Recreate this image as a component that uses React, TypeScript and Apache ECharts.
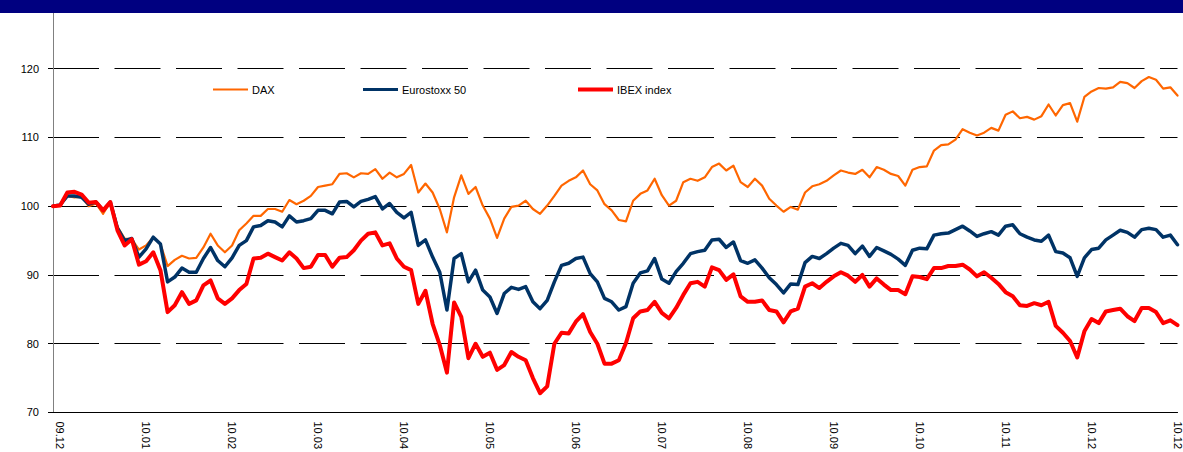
import React, { useEffect, useRef } from "react";
import * as echarts from "echarts";

const tickLabels = ["09.12", "10.01", "10.02", "10.03", "10.04", "10.05", "10.06", "10.07", "10.08", "10.09", "10.10", "10.11", "10.12", "10.12"];
const tickIndex = [1, 13, 25, 37, 49, 61, 73, 85, 97, 109, 121, 133, 145, 157];

const seriesNames = ["DAX", "Eurostoxx 50", "IBEX index"];

const dax = [
  100.0, 100.1, 101.5, 101.3, 101.4, 100.0, 100.4, 98.9, 100.6, 97.0,
  95.3, 95.2, 93.7, 94.3, 95.5, 94.5, 91.3, 92.2, 92.8, 92.4,
  92.5, 94.0, 96.0, 94.3, 93.3, 94.3, 96.5, 97.5, 98.6, 98.6,
  99.6, 99.6, 99.2, 100.9, 100.3, 100.8, 101.5, 102.8, 103.0, 103.2,
  104.7, 104.8, 104.2, 104.8, 104.7, 105.4, 104.0, 104.9, 104.2, 104.7,
  106.0, 102.0, 103.3, 102.0, 99.6, 96.2, 101.3, 104.5, 101.8, 102.8,
  100.1, 98.2, 95.4, 98.2, 99.9, 100.1, 100.8, 99.6, 98.9, 100.1,
  101.5, 103.0, 103.7, 104.2, 105.2, 103.2, 102.3, 100.3, 99.4, 98.0,
  97.8, 100.8, 101.8, 102.3, 104.0, 101.6, 100.1, 100.8, 103.5, 104.0,
  103.7, 104.2, 105.7, 106.2, 105.2, 105.9, 103.5, 102.8, 104.0, 103.0,
  101.1, 100.1, 99.2, 99.9, 99.5, 102.0, 102.9, 103.2, 103.7, 104.5,
  105.2, 104.9, 104.7, 105.3, 104.2, 105.7, 105.3, 104.7, 104.4, 103.0,
  105.3, 105.7, 105.8, 108.1, 108.9, 109.0, 109.7, 111.2, 110.7, 110.3,
  110.7, 111.4, 111.0, 113.3, 113.8, 112.8, 113.0, 112.6, 113.1, 114.8,
  113.2, 114.7, 115.0, 112.3, 115.9, 116.7, 117.2, 117.1, 117.3, 118.1,
  117.9, 117.2, 118.2, 118.8, 118.4, 117.1, 117.3, 116.1,
];

const eurostoxx = [
  100.0, 100.2, 101.5, 101.5, 101.3, 100.3, 100.6, 99.4, 100.6, 96.8,
  95.0, 95.3, 92.6, 93.8, 95.5, 94.5, 89.0, 89.7, 91.0, 90.4,
  90.4, 92.4, 94.0, 92.1, 91.2, 92.5, 94.3, 95.0, 97.0, 97.2,
  97.9, 97.7, 97.0, 98.6, 97.7, 97.9, 98.2, 99.4, 99.4, 98.9,
  100.6, 100.7, 99.9, 100.7, 101.0, 101.4, 99.6, 100.4, 99.1, 98.3,
  99.1, 94.3, 95.1, 92.6, 90.4, 84.9, 92.4, 93.1, 89.0, 90.7,
  87.8, 86.8, 84.4, 87.3, 88.2, 87.9, 88.3, 86.1, 85.1, 86.3,
  89.0, 91.4, 91.7, 92.4, 92.6, 90.2, 89.0, 86.6, 86.1, 84.9,
  85.4, 88.8, 90.3, 90.6, 92.4, 89.4, 88.8, 90.5, 91.7, 93.1,
  93.4, 93.6, 95.1, 95.2, 94.0, 94.8, 92.1, 91.7, 92.2, 91.0,
  89.6, 88.6, 87.4, 88.7, 88.6, 91.8, 92.7, 92.4, 93.1, 93.9,
  94.6, 94.3, 93.1, 94.2, 92.7, 94.0, 93.5, 93.0, 92.3, 91.4,
  93.6, 93.9, 93.8, 95.8, 96.0, 96.1, 96.6, 97.1, 96.4, 95.6,
  96.0, 96.3, 95.8, 97.1, 97.3, 96.0, 95.5, 95.1, 94.9, 95.8,
  93.4, 93.2, 92.5, 89.8, 92.5, 93.7, 93.9, 95.1, 95.8, 96.5,
  96.2, 95.5, 96.6, 96.8, 96.6, 95.5, 95.8, 94.4,
];

const ibex = [
  100.0, 100.1, 102.0, 102.1, 101.7, 100.5, 100.6, 99.4, 100.6, 96.5,
  94.3, 95.2, 91.5, 92.0, 93.3, 90.7, 84.6, 85.6, 87.5, 85.8,
  86.3, 88.5, 89.2, 86.6, 85.8, 86.6, 87.8, 88.7, 92.4, 92.5,
  93.1, 92.6, 92.1, 93.3, 92.4, 91.0, 91.2, 92.9, 92.9, 91.2,
  92.5, 92.6, 93.6, 95.0, 96.0, 96.2, 94.3, 94.6, 92.4, 91.2,
  90.7, 85.8, 87.7, 82.9, 79.8, 75.8, 86.0, 83.9, 77.9, 80.0,
  78.1, 78.7, 76.2, 76.9, 78.8, 78.1, 77.6, 75.0, 72.8, 73.8,
  80.0, 81.6, 81.5, 83.2, 84.3, 81.7, 80.0, 77.1, 77.1, 77.6,
  80.1, 83.7, 84.7, 84.9, 86.1, 84.5, 83.7, 85.2, 87.1, 88.8,
  89.0, 88.3, 91.1, 90.7, 89.3, 90.1, 86.9, 86.1, 86.1, 86.3,
  84.9, 84.7, 83.1, 84.7, 85.1, 88.3, 88.8, 88.1, 89.0, 89.8,
  90.4, 89.9, 89.0, 90.0, 88.3, 89.5, 88.6, 87.8, 87.8, 87.2,
  89.8, 89.7, 89.4, 91.0, 91.0, 91.3, 91.3, 91.5, 90.8, 89.8,
  90.4, 89.6, 88.7, 87.5, 86.9, 85.6, 85.5, 85.9, 85.6, 86.1,
  82.6, 81.6, 80.4, 78.0, 81.8, 83.6, 83.0, 84.7, 84.9, 85.1,
  84.0, 83.3, 85.2, 85.2, 84.6, 83.0, 83.4, 82.7,
];

const categories = dax.map((_, i) => String(i));

const FONT = 'Arial, "Liberation Sans", sans-serif';

export default function App() {
  const ref = useRef<HTMLDivElement>(null);

  useEffect(() => {
    if (!ref.current) return;
    const chart = echarts.init(ref.current, undefined, { renderer: "svg" });
    const legendBase = {
      orient: "horizontal",
      icon: "rect",
      itemWidth: 35,
      padding: 0,
      top: 84,
      selectedMode: false,
      textStyle: { fontSize: 11, color: "#000", fontFamily: FONT, padding: [0, 0, 0, -1] },
    };
    chart.setOption({
      animation: false,
      backgroundColor: "#ffffff",
      textStyle: { fontFamily: FONT },
      grid: { left: 53, right: 3, top: 0, bottom: 39, containLabel: false },
      legend: [
        { ...legendBase, left: 213, itemHeight: 2, data: [seriesNames[0]] },
        { ...legendBase, left: 363, itemHeight: 3, data: [seriesNames[1]] },
        { ...legendBase, left: 578, itemHeight: 4, data: [seriesNames[2]] },
      ],
      xAxis: {
        type: "category",
        boundaryGap: false,
        data: categories,
        axisLine: { show: true, lineStyle: { color: "#000", width: 1 } },
        axisTick: { show: false },
        splitLine: { show: false },
        axisLabel: {
          rotate: -90,
          margin: 9,
          fontSize: 11,
          color: "#000",
          fontFamily: FONT,
          interval: (index: number) => tickIndex.indexOf(index) >= 0,
          formatter: (_v: string, index: number) => {
            const k = tickIndex.indexOf(index);
            return k >= 0 ? tickLabels[k] : "";
          },
        },
      },
      yAxis: {
        type: "value",
        min: 70,
        max: 130,
        interval: 10,
        axisLine: { show: true, lineStyle: { color: "#808080", width: 1 } },
        axisTick: { show: true, length: 5, lineStyle: { color: "#000" } },
        axisLabel: {
          margin: 14,
          fontSize: 11,
          color: "#000",
          fontFamily: FONT,
          formatter: (v: number) => (v >= 130 ? "" : String(v)),
        },
        splitLine: {
          show: true,
          lineStyle: { color: "#000", width: 1, type: [46, 15.5] },
        },
      },
      series: [
        {
          name: seriesNames[0],
          type: "line",
          data: dax,
          symbol: "none",
          showSymbol: false,
          color: "#FF6600",
          lineStyle: { width: 2.2, color: "#FF6600", join: "round", cap: "round" },
          z: 2,
        },
        {
          name: seriesNames[1],
          type: "line",
          data: eurostoxx,
          symbol: "none",
          showSymbol: false,
          color: "#003366",
          lineStyle: { width: 3.5, color: "#003366", join: "round", cap: "round" },
          z: 3,
        },
        {
          name: seriesNames[2],
          type: "line",
          data: ibex,
          symbol: "none",
          showSymbol: false,
          color: "#FF0000",
          lineStyle: { width: 4, color: "#FF0000", join: "round", cap: "round" },
          z: 4,
        },
      ],
      graphic: [
        {
          type: "rect",
          left: 0,
          top: 0,
          z: 100,
          shape: { x: 0, y: 0, width: 1183, height: 13 },
          style: { fill: "#000080" },
        },
      ],
    });
    return () => {
      chart.dispose();
    };
  }, []);

  return (
    <div
      ref={ref}
      style={{ position: "absolute", left: 0, top: 0, width: 1183, height: 452, background: "#fff" }}
    />
  );
}
